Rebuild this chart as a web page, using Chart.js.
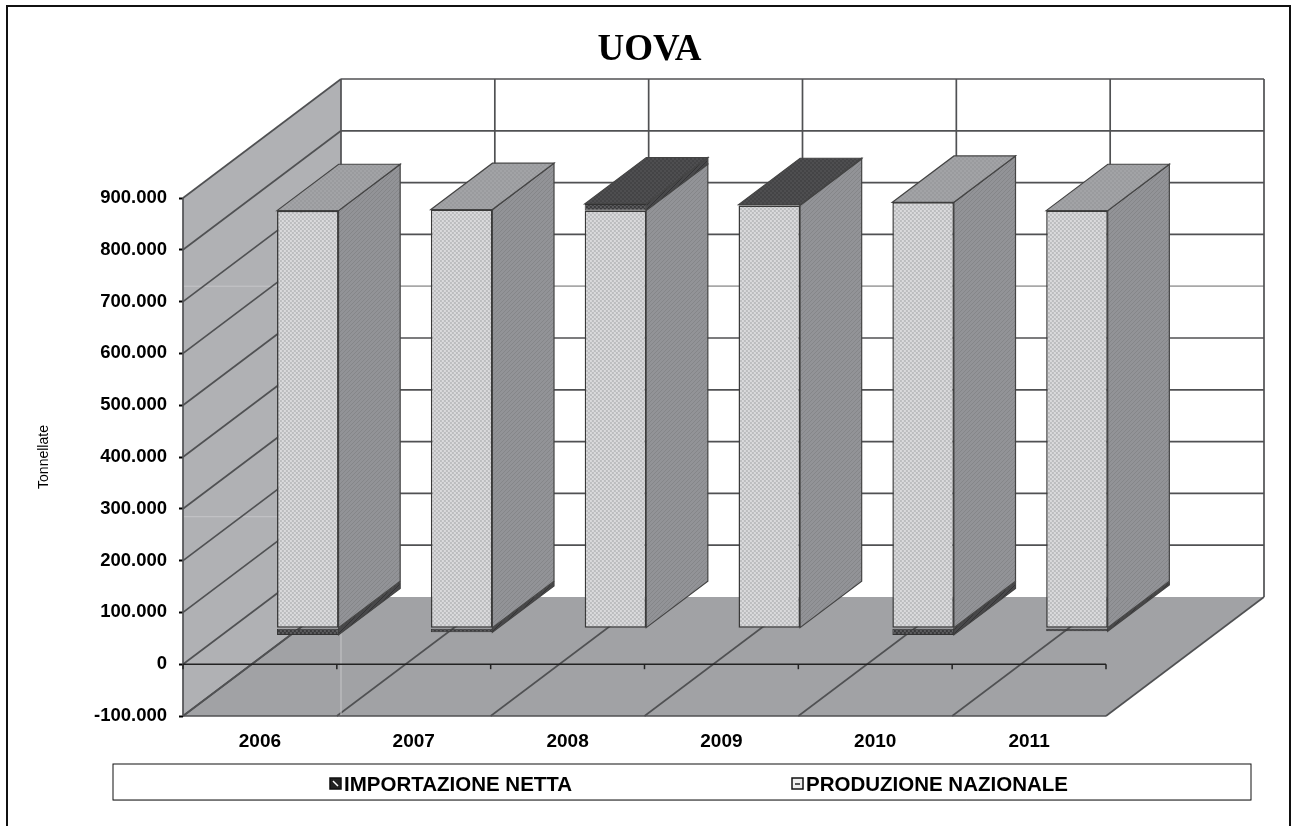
<!DOCTYPE html>
<html>
<head>
<meta charset="utf-8">
<title>UOVA</title>
<script src="https://cdn.jsdelivr.net/npm/chart.js@4"></script>
<style>
  html, body { margin: 0; padding: 0; background: #fff; }
  canvas { display: block; }
</style>
</head>
<body>
<canvas id="myChart" width="1292" height="826"></canvas>
<script>
const anni = ["2006", "2007", "2008", "2009", "2010", "2011"]
const produzione = [806000, 808000, 806000, 816000, 822000, 806000]
const importazione = [-13000, -8000, 13000, 1500, -13000, -6000]
const tickValori = [-100000, 0, 100000, 200000, 300000, 400000, 500000, 600000, 700000, 800000, 900000]

// profondita della scatola 3D, in pixel
const profX = 158
const profY = -119
// dove sta la barra dentro la profondita
const barraInizio = 0.303
const barraFine = 0.693

const font = "'Liberation Sans', Arial, sans-serif"

function creaPattern(lato, colore, disegna) {
    const c = document.createElement("canvas")
    c.width = lato
    c.height = lato
    const g = c.getContext("2d")
    g.fillStyle = colore
    g.fillRect(0, 0, lato, lato)
    disegna(g)
    return document.createElement("canvas").getContext("2d").createPattern(c, "repeat")
}

function puntini(colore) {
    return g => {
        g.fillStyle = colore
        g.fillRect(0, 0, 2, 2)
        g.fillRect(2, 2, 2, 2)
    }
}

function tratteggio(colore) {
    return g => {
        g.strokeStyle = colore
        g.lineWidth = 1
        for (let i = -4; i < 8; i += 4) {
            g.beginPath()
            g.moveTo(i, 4)
            g.lineTo(i + 4, 0)
            g.stroke()
        }
    }
}

const frontePro = creaPattern(4, "#dadadc", puntini("#bcbdbf"))
const lato = creaPattern(4, "#929397", tratteggio("#858689"))
const sopraPro = creaPattern(4, "#a2a3a6", puntini("#9a9b9e"))
const fronteImp = creaPattern(4, "#5c5c5e", puntini("#3a3a3c"))
const latoImp = creaPattern(4, "#48484a", tratteggio("#333335"))
const sopraImp = creaPattern(4, "#4e4e50", puntini("#444446"))

function linea(ctx, x1, y1, x2, y2) {
    ctx.beginPath()
    ctx.moveTo(x1, y1)
    ctx.lineTo(x2, y2)
    ctx.stroke()
}

function poligono(ctx, punti, riempimento, bordo) {
    ctx.beginPath()
    punti.forEach((p, i) => i === 0 ? ctx.moveTo(p[0], p[1]) : ctx.lineTo(p[0], p[1]))
    ctx.closePath()
    ctx.fillStyle = riempimento
    ctx.fill()
    if (bordo) {
        ctx.strokeStyle = bordo
        ctx.lineWidth = 1.2
        ctx.stroke()
    }
}

// pareti, pavimento e griglia
const pluginScatola = {
    id: "scatola",
    beforeDatasetsDraw(chart) {
        const ctx = chart.ctx
        const x = chart.scales.x
        const y = chart.scales.y
        const sx = x.left
        const dx = x.right
        const alto = y.getPixelForValue(tickValori[tickValori.length - 1])
        const basso = y.getPixelForValue(tickValori[0])
        const largCat = (dx - sx) / anni.length

        ctx.save()
        // parete sinistra e pavimento
        poligono(ctx, [[sx, alto], [sx + profX, alto + profY], [sx + profX, basso + profY], [sx, basso]], "#b0b1b4")
        poligono(ctx, [[sx, basso], [sx + profX, basso + profY], [dx + profX, basso + profY], [dx, basso]], "#a1a2a5")

        // le cuciture chiare che si vedono sulla parete e sul pavimento
        ctx.strokeStyle = "#c6c6c8"
        ctx.lineWidth = 1
        linea(ctx, sx, y.getPixelForValue(500000) + profY, sx + profX, y.getPixelForValue(500000) + profY)
        linea(ctx, sx, y.getPixelForValue(55000) + profY, sx + profX, y.getPixelForValue(55000) + profY)

        // righe orizzontali sulle pareti
        tickValori.forEach(v => {
            const py = y.getPixelForValue(v)
            ctx.lineWidth = 1.7
            ctx.strokeStyle = "#505153"
            linea(ctx, sx, py, sx + profX, py + profY)
            if (v !== tickValori[0]) {
                ctx.strokeStyle = v === 500000 ? "#a8a8a8" : "#505153"
                linea(ctx, sx + profX, py + profY, dx + profX, py + profY)
            }
        })

        // righe verticali e diagonali del pavimento
        ctx.strokeStyle = "#505153"
        for (let i = 0; i <= anni.length; i++) {
            const px = sx + i * largCat
            ctx.lineWidth = 1.7
            linea(ctx, px + profX, alto + profY, px + profX, i === 0 ? basso + profY : basso + profY)
            ctx.lineWidth = 1.6
            linea(ctx, px, basso, px + profX, basso + profY)
        }
        ctx.strokeStyle = "#c6c6c8"
        ctx.lineWidth = 1
        linea(ctx, sx + profX, basso + profY, sx + profX, basso)
        ctx.strokeStyle = "#505153"
        ctx.lineWidth = 1.7
        linea(ctx, sx, alto, sx, basso)
        linea(ctx, sx, basso, dx, basso)

        // asse dello zero con le tacche
        const zero = y.getPixelForValue(0)
        ctx.strokeStyle = "#222"
        ctx.lineWidth = 1.5
        linea(ctx, sx, zero, dx, zero)
        for (let i = 0; i <= anni.length; i++) {
            linea(ctx, sx + i * largCat, zero, sx + i * largCat, zero + 5)
        }

        // fianchi e coperchio delle barre
        const fx = barraInizio * profX
        const fy = barraInizio * profY
        const px = (barraFine - barraInizio) * profX
        const py = (barraFine - barraInizio) * profY
        anni.forEach((anno, i) => {
            const barre = chart.data.datasets.map((d, k) => ({ d, el: chart.getDatasetMeta(k).data[i] }))
            barre.forEach(({ d, el }) => {
                const r = el.x + el.width / 2 + fx
                poligono(ctx, [[r, el.y + fy], [r + px, el.y + fy + py], [r + px, el.base + fy + py], [r, el.base + fy]], d.coloreLato, "#444")
            })
            const cima = barre.reduce((a, b) => b.el.y < a.el.y ? b : a)
            const l = cima.el.x - cima.el.width / 2 + fx
            const r = cima.el.x + cima.el.width / 2 + fx
            const t = cima.el.y + fy
            poligono(ctx, [[l, t], [l + px, t + py], [r + px, t + py], [r, t]], cima.d.coloreSopra, "#444")
        })
        ctx.restore()

        // le barre vere di Chart.js vanno sulla faccia anteriore spostata
        ctx.save()
        ctx.translate(fx, fy)
    },
    afterDatasetsDraw(chart) {
        chart.ctx.restore()
    },
    afterLayout(chart) {
        chart.titleBlock.left += 5
        chart.titleBlock.right += 5
    },
    afterDraw(chart) {
        const ctx = chart.ctx
        ctx.save()

        // cornice esterna, aperta in basso
        ctx.strokeStyle = "#111"
        ctx.lineWidth = 2
        ctx.beginPath()
        ctx.moveTo(7, 826)
        ctx.lineTo(7, 6)
        ctx.lineTo(1290, 6)
        ctx.lineTo(1290, 826)
        ctx.stroke()

        // legenda
        ctx.lineWidth = 1
        ctx.strokeStyle = "#111"
        ctx.strokeRect(113, 764, 1138, 36)
        ctx.strokeStyle = "#777"
        linea(ctx, 113, 800.5, 1251, 800.5)

        const voci = [
            { d: chart.data.datasets[0], x: 330 },
            { d: chart.data.datasets[1], x: 792 }
        ]
        voci.forEach((v, i) => {
            ctx.fillStyle = v.d.coloreLegenda
            ctx.fillRect(v.x, 778, 11, 11)
            ctx.strokeStyle = "#111"
            ctx.lineWidth = 1.5
            ctx.strokeRect(v.x, 778, 11, 11)
            ctx.strokeStyle = i === 0 ? "#fff" : "#222"
            linea(ctx, v.x + 3, i === 0 ? 781 : 784, v.x + 8, i === 0 ? 786 : 784)
            ctx.fillStyle = "#000"
            ctx.font = "bold 20.5px " + font
            ctx.textAlign = "left"
            ctx.textBaseline = "middle"
            ctx.fillText(v.d.label, v.x + 14, 785)
        })
        ctx.restore()
    }
}

const grafica = document.getElementById("myChart").getContext("2d")

const myChart = new Chart(grafica, {
    type: "bar",
    data: {
        labels: anni,
        datasets: [
            {
                label: "IMPORTAZIONE NETTA",
                data: importazione,
                order: 1,
                backgroundColor: fronteImp,
                borderColor: "#333",
                borderWidth: 1,
                borderSkipped: false,
                coloreLato: latoImp,
                coloreSopra: sopraImp,
                coloreLegenda: "#222"
            },
            {
                label: "PRODUZIONE NAZIONALE",
                data: produzione,
                order: 0,
                backgroundColor: frontePro,
                borderColor: "#3a3a3a",
                borderWidth: 1.5,
                borderSkipped: false,
                coloreLato: lato,
                coloreSopra: sopraPro,
                coloreLegenda: "#eee"
            }
        ]
    },
    options: {
        responsive: false,
        animation: false,
        barPercentage: 0.8,
        categoryPercentage: 0.5,
        clip: false,
        layout: { padding: { left: 0, right: 186, top: 0, bottom: 70 } },
        plugins: {
            legend: { display: false },
            tooltip: { enabled: false },
            title: {
                display: true,
                text: "UOVA",
                fullSize: false,
                color: "#000",
                font: { family: "'Liberation Serif', 'Times New Roman', serif", size: 37, weight: "bold", lineHeight: 1.2 },
                padding: { top: 28, bottom: 125.6 }
            }
        },
        scales: {
            x: {
                stacked: true,
                grid: { display: false },
                border: { display: false },
                ticks: { color: "#000", padding: 6, maxRotation: 0, font: { family: font, size: 19, weight: "bold" } },
                afterFit: s => { s.height = 40 }
            },
            y: {
                stacked: true,
                min: -100000,
                max: 900000,
                afterBuildTicks: s => { s.ticks = tickValori.map(v => ({ value: v })) },
                grid: { drawOnChartArea: false, drawTicks: true, tickLength: 4, tickColor: "#000", tickWidth: 2 },
                border: { display: false },
                ticks: {
                    color: "#000",
                    padding: 12,
                    font: { family: font, size: 18.5, weight: "bold" },
                    callback: v => String(v).replace(/\B(?=(\d{3})+$)/g, ".")
                },
                title: {
                    display: true,
                    text: "Tonnellate",
                    color: "#000",
                    font: { family: font, size: 14 },
                    padding: { top: 36, bottom: 0 }
                },
                afterFit: s => { s.width = 183 }
            }
        }
    },
    plugins: [pluginScatola]
})
</script>
</body>
</html>
